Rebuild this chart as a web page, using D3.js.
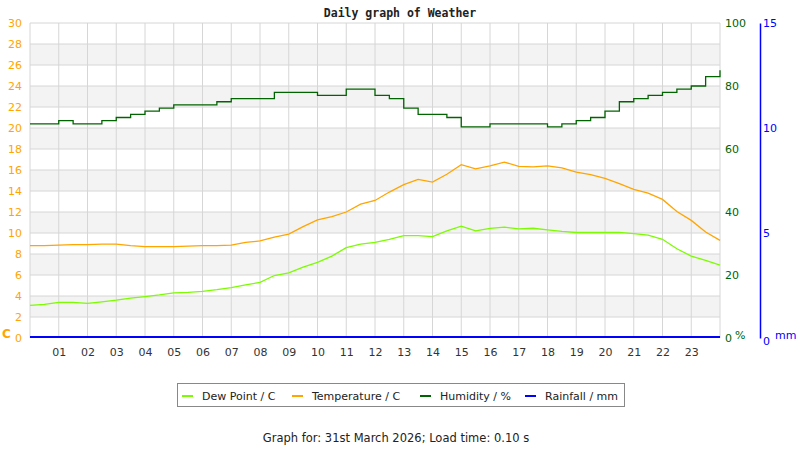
<!DOCTYPE html>
<html>
<head>
<meta charset="utf-8">
<script src="https://cdn.jsdelivr.net/npm/d3@7"></script>
<style>
  body { margin: 0; background: #fff; }
  text { font-family: "DejaVu Sans", sans-serif; }
</style>
</head>
<body>
<div id="chart"></div>
<script>
'use strict';

// half-hourly readings, 00:00 .. 24:00
var hours = d3.range(0, 24.01, 0.5);

var dewPoint = [3.1, 3.2, 3.4, 3.4, 3.3, 3.45, 3.6, 3.8, 3.95, 4.1, 4.3, 4.35,
  4.45, 4.6, 4.8, 5.05, 5.3, 5.95, 6.2, 6.75, 7.2, 7.8, 8.6, 8.95,
  9.1, 9.4, 9.75, 9.75, 9.65, 10.2, 10.65, 10.2, 10.45, 10.55, 10.4, 10.45,
  10.3, 10.15, 10.05, 10.05, 10.05, 10.05, 9.95, 9.8, 9.4, 8.5, 7.8, 7.4, 6.95];

var temperature = [8.8, 8.8, 8.85, 8.9, 8.9, 8.95, 8.95, 8.8, 8.7, 8.7, 8.7, 8.75,
  8.8, 8.8, 8.85, 9.1, 9.25, 9.6, 9.9, 10.6, 11.25, 11.55, 12.0, 12.75,
  13.1, 13.9, 14.6, 15.1, 14.85, 15.6, 16.5, 16.1, 16.4, 16.75, 16.35, 16.3,
  16.4, 16.2, 15.8, 15.55, 15.2, 14.7, 14.15, 13.8, 13.2, 12.05, 11.2, 10.1, 9.3];

var humidity = [68, 68, 69, 68, 68, 69, 70, 71, 72, 73, 74, 74,
  74, 75, 76, 76, 76, 78, 78, 78, 77, 77, 79, 79,
  77, 76, 73, 71, 71, 70, 67, 67, 68, 68, 68, 68,
  67, 68, 69, 70, 72, 75, 76, 77, 78, 79, 80, 83, 85];

var rainfall = hours.map(function() { return 0; });

var hourTicks = d3.range(1, 24);
var tempTicks = d3.range(0, 31, 2);
var humTicks = [0, 20, 40, 60, 80, 100];
var rainTicks = [0, 5, 10, 15];

var legendItems = ["Dew Point / C", "Temperature / C", "Humidity / %", "Rainfall / mm"];
var legendColors = ["#7cfc00", "#ffa500", "#006400", "#0000ff"];

var W = 800, H = 450;
var margin = {top: 23, right: 80, bottom: 112, left: 30},
  width = W - margin.left - margin.right,
  height = H - margin.top - margin.bottom;

var svg = d3.select("#chart").append("svg")
  .attr("width", W)
  .attr("height", H);

var x = d3.scaleLinear().domain([0, 24]).range([margin.left, margin.left + width]),
  yT = d3.scaleLinear().domain([0, 30]).range([margin.top + height, margin.top]),
  yH = d3.scaleLinear().domain([0, 100]).range([margin.top + height, margin.top]),
  yR = d3.scaleLinear().domain([0, 15]).range([margin.top + height, margin.top]);

// alternating bands
svg.append("g").selectAll("rect")
  .data(tempTicks.filter(function(d) { return d % 4 == 2 && d < 30; }))
  .enter().append("rect")
  .attr("x", margin.left)
  .attr("y", function(d) { return yT(d + 2); })
  .attr("width", width)
  .attr("height", function(d) { return yT(d) - yT(d + 2); })
  .style("fill", "#f3f3f3");

// horizontal grid
svg.append("g").selectAll("line")
  .data(tempTicks.slice(1))
  .enter().append("line")
  .attr("x1", margin.left).attr("x2", margin.left + width)
  .attr("y1", function(d) { return yT(d); }).attr("y2", function(d) { return yT(d); })
  .style("stroke", "#d6d6d6");

// vertical grid + border
svg.append("g").selectAll("line")
  .data([0].concat(hourTicks, [24]))
  .enter().append("line")
  .attr("x1", function(d) { return x(d); }).attr("x2", function(d) { return x(d); })
  .attr("y1", margin.top).attr("y2", margin.top + height)
  .style("stroke", "#d6d6d6");

// axes
function styleAxis(g, color) {
  g.select(".domain").remove();
  g.selectAll("text").style("fill", color).style("font-size", "11px")
    .style("font-family", "DejaVu Sans");
}

svg.append("g")
  .attr("transform", "translate(" + margin.left + ",0)")
  .call(d3.axisLeft(yT).tickValues(tempTicks).tickSize(0).tickPadding(8))
  .call(styleAxis, "#ffa500");

svg.append("g")
  .attr("transform", "translate(0," + (margin.top + height) + ")")
  .call(d3.axisBottom(x).tickValues(hourTicks).tickSize(0).tickPadding(10)
    .tickFormat(function(d) { return d3.format("02d")(d); }))
  .call(styleAxis, "#333");

svg.append("g")
  .attr("transform", "translate(" + (margin.left + width) + ",0)")
  .call(d3.axisRight(yH).tickValues(humTicks).tickSize(0).tickPadding(5))
  .call(styleAxis, "#006400");

var rainAxis = svg.append("g")
  .attr("transform", "translate(" + (margin.left + width + 40) + ",0)")
  .call(d3.axisRight(yR).tickValues(rainTicks).tickSize(0).tickPadding(3));
rainAxis.selectAll("text").style("fill", "#0000ff").style("font-size", "11px");
rainAxis.select(".domain").style("stroke", "#0000ff").style("stroke-width", 1.5);
rainAxis.selectAll(".tick").filter(function(d) { return d == 0; })
  .select("text").attr("dy", "0.55em");

// unit labels
svg.append("text").attr("x", 2).attr("y", 338).text("C")
  .style("fill", "#ffa500").style("font-size", "12px").style("font-weight", "bold");
svg.append("text").attr("x", 735).attr("y", 339).text("%")
  .style("fill", "#006400").style("font-size", "11px");
svg.append("text").attr("x", 775).attr("y", 339).text("mm")
  .style("fill", "#0000ff").style("font-size", "11px");

// title
svg.append("text")
  .attr("x", 400).attr("y", 17)
  .attr("text-anchor", "middle")
  .style("font-family", "DejaVu Sans Mono")
  .style("font-weight", "bold")
  .style("font-size", "11.5px")
  .style("fill", "#222")
  .text("Daily graph of Weather");

// series
var lineT = d3.line().x(function(d, i) { return x(hours[i]); }).y(function(d) { return yT(d); });
var lineH = d3.line().x(function(d, i) { return x(hours[i]); }).y(function(d) { return yH(d); })
  .curve(d3.curveStepAfter);
var lineR = d3.line().x(function(d, i) { return x(hours[i]); }).y(function(d) { return yR(d); });

svg.append("path").attr("d", lineT(dewPoint))
  .style("fill", "none").style("stroke", legendColors[0]).style("stroke-width", 1.3);
svg.append("path").attr("d", lineT(temperature))
  .style("fill", "none").style("stroke", legendColors[1]).style("stroke-width", 1.3);
svg.append("path").attr("d", lineH(humidity))
  .style("fill", "none").style("stroke", legendColors[2]).style("stroke-width", 1.3);
svg.append("path").attr("d", lineR(rainfall))
  .style("fill", "none").style("stroke", legendColors[3]).style("stroke-width", 2)
  .attr("transform", "translate(0,-1)");

// legend
var legend = svg.append("g");
legend.append("rect")
  .attr("x", 177.5).attr("y", 383.5).attr("width", 447).attr("height", 23)
  .style("fill", "#fff").style("stroke", "#888");

var legendX = [182, 292, 420, 525];
var li = legend.selectAll("g.item")
  .data(legendItems)
  .enter().append("g")
  .attr("class", "item")
  .attr("transform", function(d, i) { return "translate(" + legendX[i] + ",396)"; });
li.append("line")
  .attr("x1", 0).attr("x2", 11).attr("y1", 0).attr("y2", 0)
  .style("stroke", function(d, i) { return legendColors[i]; })
  .style("stroke-width", 2);
li.append("text")
  .attr("x", 20).attr("y", 4)
  .style("font-size", "11px").style("fill", "#222")
  .text(function(d) { return d; });

// footer
svg.append("text")
  .attr("x", 396).attr("y", 442)
  .attr("text-anchor", "middle")
  .style("font-size", "11.5px").style("fill", "#222")
  .text("Graph for: 31st March 2026; Load time: 0.10 s");
</script>
</body>
</html>
